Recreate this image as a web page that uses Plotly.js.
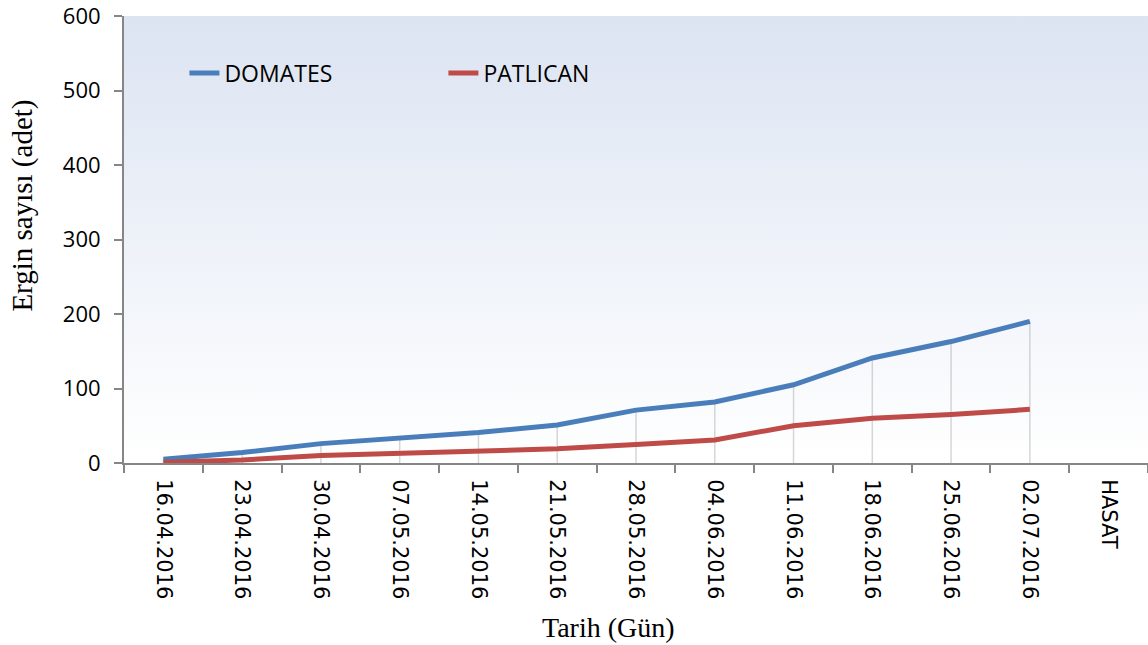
<!DOCTYPE html>
<html>
<head>
<meta charset="utf-8">
<script src="https://cdn.plot.ly/plotly-3.0.1.min.js"></script>
<style>
  html, body { margin: 0; padding: 0; background: #ffffff; }
  #wrap { position: relative; width: 1148px; height: 645px; }
  #bg { position: absolute; left: 124px; top: 16px; width: 1024px; height: 447px;
        background: linear-gradient(to bottom, #dce4f2 0%, #ffffff 100%); }
  #chart { position: absolute; left: 0; top: 0; width: 1148px; height: 645px; }
</style>
</head>
<body>
<div id="wrap">
  <div id="bg"></div>
  <div id="chart"></div>
</div>
<script>
const categories = ["16.04.2016","23.04.2016","30.04.2016","07.05.2016","14.05.2016","21.05.2016",
                    "28.05.2016","04.06.2016","11.06.2016","18.06.2016","25.06.2016","02.07.2016","HASAT"];
const dates = categories.slice(0, 12);
const domates = [5, 14, 26, 33, 41, 51, 71, 82, 105, 141, 163, 190];
const patlican = [1, 4, 10, 13, 16, 19, 25, 31, 50, 60, 65, 72];
const yTicks = [0, 100, 200, 300, 400, 500, 600];
const seriesNames = ["DOMATES", "PATLICAN"];

const traces = [
  {
    x: dates, y: domates, name: seriesNames[0], type: "scatter", mode: "lines",
    line: { color: "#4a7ebb", width: 5 },
    error_y: { type: "data", symmetric: false, array: domates.map(() => 0), arrayminus: domates,
               color: "rgba(140,140,140,0.35)", thickness: 1.5, width: 0 }
  },
  {
    x: dates, y: patlican, name: seriesNames[1], type: "scatter", mode: "lines",
    line: { color: "#be4b48", width: 5 }
  }
];

const layout = {
  width: 1148, height: 645,
  margin: { l: 124, r: 0, t: 16, b: 182 },
  paper_bgcolor: "rgba(0,0,0,0)",
  plot_bgcolor: "rgba(0,0,0,0)",
  showlegend: true,
  legend: {
    orientation: "h", x: 0.059, y: 0.8725, xanchor: "left", yanchor: "middle",
    bgcolor: "rgba(0,0,0,0)",
    font: { family: "Open Sans", size: 23, color: "#000" },
    entrywidth: 214, entrywidthmode: "pixels"
  },
  xaxis: {
    type: "category", categoryorder: "array", categoryarray: categories,
    range: [-0.5, 12.5], tickson: "boundaries",
    showline: true, linecolor: "#868686", linewidth: 2,
    ticks: "outside", ticklen: 8, tickcolor: "#868686", tickwidth: 2,
    tickangle: 90, showgrid: false, zeroline: false, ticklabelstandoff: 10,
    tickfont: { family: "DejaVu Sans", size: 21, color: "#000" }
  },
  yaxis: {
    range: [0, 600], tickvals: yTicks, ticktext: yTicks.map(String),
    showline: true, linecolor: "#868686", linewidth: 2,
    ticks: "outside", ticklen: 8, tickcolor: "#868686", tickwidth: 2,
    showgrid: false, zeroline: false, ticklabelstandoff: 9, ticklabeloverflow: "allow",
    tickfont: { family: "Open Sans", size: 22, color: "#000" }
  },
  annotations: [
    { text: "Tarih (Gün)", xref: "paper", yref: "paper", x: (608 - 124) / 1024, y: -0.368,
      xanchor: "center", yanchor: "middle", showarrow: false,
      font: { family: "Liberation Serif", size: 28, color: "#000" } },
    { text: "Ergin sayısı (adet)", xref: "paper", yref: "paper", x: -0.1, y: (463 - 206) / 447,
      xanchor: "center", yanchor: "middle", showarrow: false, textangle: -90,
      font: { family: "Liberation Serif", size: 29, color: "#000" } }
  ]
};

Plotly.newPlot("chart", traces, layout, { displayModeBar: false, staticPlot: true });
</script>
</body>
</html>
